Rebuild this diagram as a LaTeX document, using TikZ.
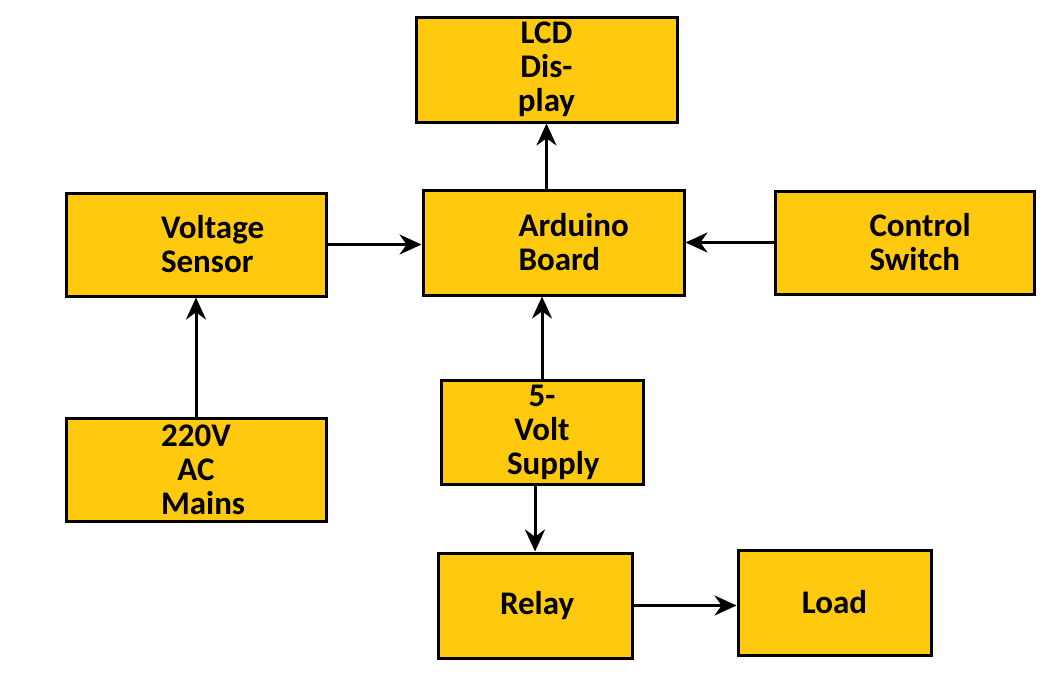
\documentclass[tikz,border=0pt]{standalone}
\usepackage{fontspec}
\setmainfont{Carlito}
\usetikzlibrary{arrows.meta,positioning}
\definecolor{bgold}{RGB}{255, 201, 14}
\tikzstyle{block} = [rectangle, draw, line width=3pt, fill=bgold,
  text width=7em, align=center, inner sep=0pt, font=\fontsize{33}{34}\selectfont\bfseries]
\tikzstyle{line} = [draw, line width=3pt, color=black, -{Stealth[length=22pt,width=20pt]}]
\begin{document}
\begin{tikzpicture}[x=1pt,y=-1pt]
  \useasboundingbox (0,0) rectangle (1057,673);

  % top row
  \node [block, minimum width=261pt, minimum height=105pt] (lcd) at (546.5,69.5) {LCD Display};
  \node [block, minimum width=260pt, minimum height=103pt] (sensor) at (196,244.5) {Voltage\\Sensor};
  \node [block, minimum width=261pt, minimum height=105pt] (arduino) at (553.5,242.5) {Arduino\\Board};
  \node [block, minimum width=259pt, minimum height=103pt] (switch) at (904.5,242.5) {Control\\Switch};

  % bottom part
  \node [block, minimum width=260pt, minimum height=103pt] (mains) at (196,469.5) {220V AC\\Mains};
  \node [block, minimum width=202pt, minimum height=104pt] (supply) at (542,432) {5-Volt\\Supply};
  \node [block, minimum width=194pt, minimum height=105pt] (relay) at (535,605.5) {Relay};
  \node [block, minimum width=193pt, minimum height=105pt] (load) at (834.5,602.5) {Load};

  \path [line] (arduino.north -| lcd.south) -- (lcd.south);
  \path [line] (sensor.east) -- (sensor.east -| arduino.west);
  \path [line] (switch.west) -- (switch.west -| arduino.east);
  \path [line] (mains.north) -- (sensor.south);
  \path [line] (supply.north) -- (supply.north |- arduino.south);
  \path [line] (supply.south -| relay.north) -- (relay.north);
  \path [line] (relay.east) -- (relay.east -| load.west);
\end{tikzpicture}
\end{document}
